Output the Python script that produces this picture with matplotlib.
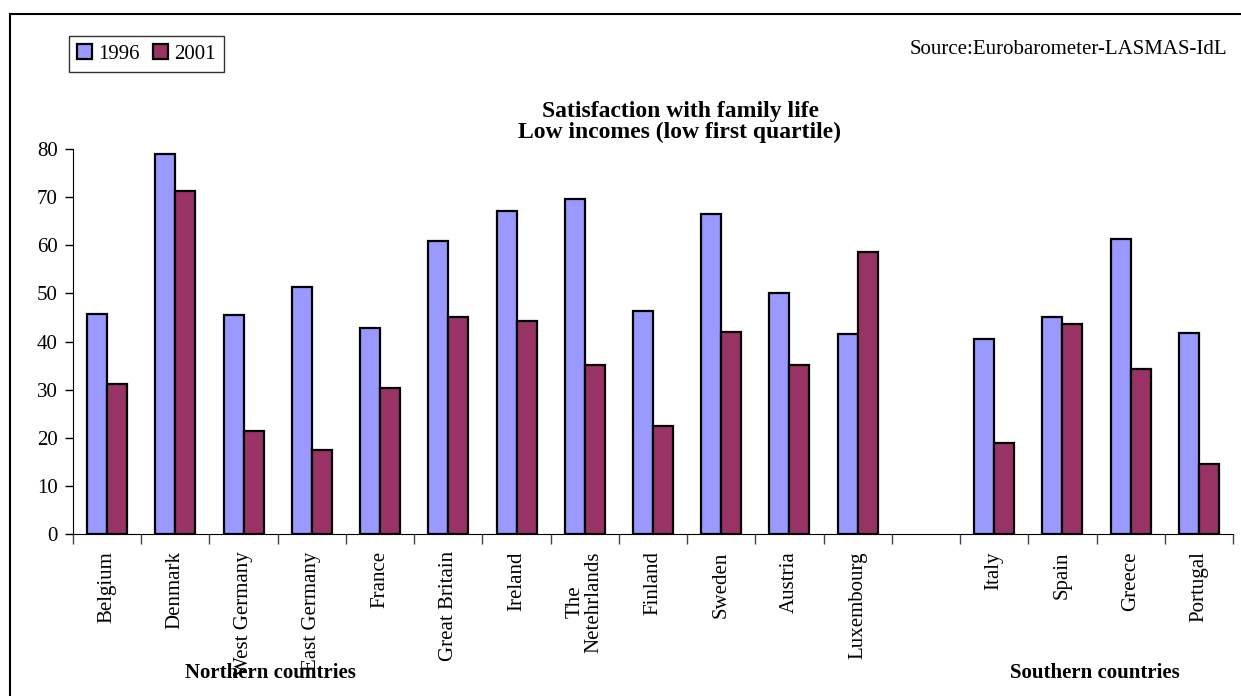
import numpy as np
import matplotlib.pyplot as plt
from matplotlib.patches import Rectangle

plt.rcParams['font.family'] = ['Liberation Serif', 'DejaVu Serif']

# Northern and southern countries, % satisfied with family life (low incomes)
northern = ['Belgium', 'Denmark', 'West Germany', 'East Germany', 'France',
            'Great Britain', 'Ireland', 'The\nNetehrlands', 'Finland', 'Sweden',
            'Austria', 'Luxembourg']
northern_1996 = [45.7, 79.0, 45.5, 51.4, 42.9, 60.8, 67.2, 69.6, 46.3, 66.5, 50.0, 41.6]
northern_2001 = [31.1, 71.2, 21.3, 17.4, 30.3, 45.1, 44.3, 35.1, 22.5, 41.9, 35.1, 58.6]

southern = ['Italy', 'Spain', 'Greece', 'Portugal']
southern_1996 = [40.5, 45.0, 61.3, 41.7]
southern_2001 = [18.9, 43.6, 34.2, 14.6]

labels = northern + southern
v1996 = northern_1996 + southern_1996
v2001 = northern_2001 + southern_2001
# one empty slot between the two groups
x = np.r_[np.arange(len(northern)), np.arange(len(southern)) + len(northern) + 1]
nslots = len(northern) + 1 + len(southern)

fig = plt.figure(figsize=(12.41, 6.96), dpi=100)
ax = fig.add_axes([73 / 1241, 1 - 534 / 696, 1160 / 1241, 385 / 696])

w = 0.293
ax.bar(x - w / 2, v1996, w, color='#9999FF', edgecolor='black', linewidth=1.6, label='1996')
ax.bar(x + w / 2, v2001, w, color='#993366', edgecolor='black', linewidth=1.6, label='2001')

ax.set_xlim(-0.5, nslots - 0.5)
ax.set_ylim(0, 80)
ax.set_yticks(range(0, 81, 10))
ax.tick_params(axis='y', labelsize=15, length=6, width=1, pad=5)

# ticks between categories, labels under the bars
ax.set_xticks(np.arange(nslots + 1) - 0.5)
ax.set_xticklabels([])
ax.tick_params(axis='x', which='major', length=7, width=1, color='#444444')
ax.set_xticks(x, minor=True)
ax.set_xticklabels(labels, minor=True, rotation=90, fontsize=15, va='top',
                   ha='center', linespacing=1.0)
ax.tick_params(axis='x', which='minor', length=0, pad=12.5)

for s in ['top', 'right']:
    ax.spines[s].set_visible(False)

fig.text(680 / 1241, 1 - 122 / 696, 'Satisfaction with family life\nLow incomes (low first quartile)',
         ha='center', va='center', fontsize=17, fontweight='bold', linespacing=1.0)
fig.text(1227 / 1241, 1 - 50 / 696, 'Source:Eurobarometer-LASMAS-IdL',
         ha='right', va='center', fontsize=15)
fig.text(270 / 1241, 1 - 673 / 696, 'Northern countries', ha='center', va='center',
         fontsize=15, fontweight='bold')
fig.text(1095 / 1241, 1 - 673 / 696, 'Southern countries', ha='center', va='center',
         fontsize=15, fontweight='bold')

leg = fig.legend(loc='upper left', bbox_to_anchor=(69 / 1241, 1 - 36 / 696), ncol=2,
                 fontsize=15, frameon=True, fancybox=False, edgecolor='black',
                 handlelength=0.7, handleheight=0.7, handletextpad=0.3,
                 columnspacing=0.65, borderpad=0.4, borderaxespad=0)
leg.get_frame().set_linewidth(1)

# outer chart frame
fig.patches.append(Rectangle((10 / 1241, -0.1), 1.0, 1.1 - 14 / 696, transform=fig.transFigure,
                             fill=False, edgecolor='black', linewidth=1.5))

fig.savefig('out.png', dpi=100)
